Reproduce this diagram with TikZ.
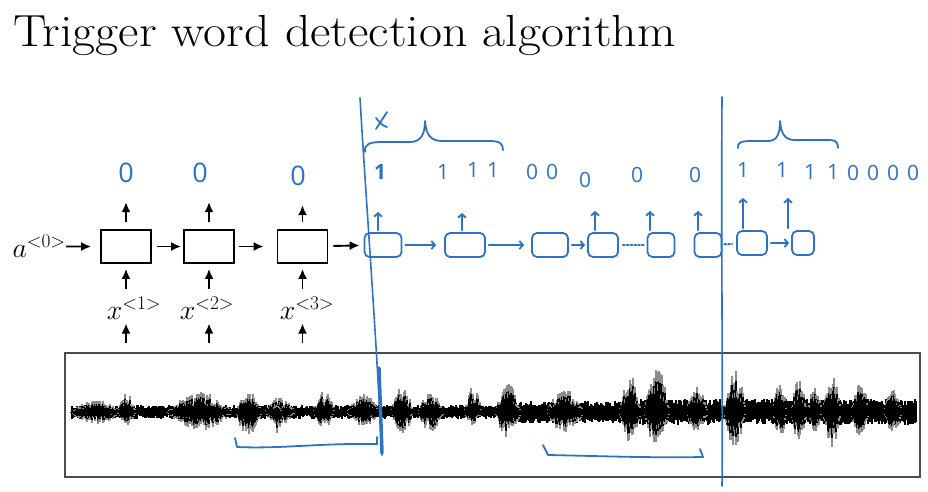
\documentclass[tikz,border=0pt]{standalone}
\usepackage{fontspec}
\newfontfamily\handfont{Open Sans}
\usetikzlibrary{arrows.meta,positioning}
\definecolor{inkblue}{RGB}{45,115,195}
\newcommand{\tstep}[2]{#1^{\scriptscriptstyle<#2>}}

\begin{document}
\begin{tikzpicture}[x=1pt,y=-1pt,
  cell/.style={draw,line width=1.7pt,minimum width=50pt,minimum height=33pt,inner sep=0pt},
  arr/.style={-{Latex[length=10pt,width=9pt]},line width=1.9pt},
  var/.style={inner sep=0pt,font=\fontsize{24.88}{28}\selectfont,scale=1.12,transform shape},
  outdigit/.style={inner sep=0pt,text=inkblue,font=\handfont\fontsize{27}{30}\selectfont},
  hand/.style={draw=inkblue,line width=1.8pt,line cap=round,line join=round},
  hcell/.style={hand,rounded corners=5pt,minimum height=24pt,inner sep=0pt},
  harr/.style={hand,-{Straight Barb[length=3.5pt,width=8pt]}},
  digit/.style={inner sep=0pt,text=inkblue,font=\handfont\fontsize{21}{23}\selectfont},
]
\useasboundingbox (0,0) rectangle (928,491);

\node[anchor=base west,inner sep=0pt,font=\fontsize{45}{50}\selectfont,
  xscale=1.11,transform shape] (title) at (13,46)
  {Trigger word detection algorithm};

%% clean RNN on the left
\node[cell] (c1) at (126,246.5) {};
\node[cell] (c2) at (209,246.5) {};
\node[cell] (c3) at (302.5,246.5) {};
\node[var,anchor=east] (a0) at (66,246.5) {$\tstep{a}{0}$};

\node[outdigit] (y1) at (126,173) {0};
\node[outdigit] (y2) at (200,173) {0};
\node[outdigit] (y3) at (298,176) {0};

\node[var] (x1) at (134,308) {$\tstep{x}{1}$};
\node[var] (x2) at (207,308) {$\tstep{x}{2}$};
\node[var] (x3) at (307,308) {$\tstep{x}{3}$};

%% audio clip
\node[draw=black!70,line width=1.4pt,minimum width=855pt,minimum height=124pt,inner sep=0pt]
  (wave) at (492.5,415) {};

%% handwritten cells
\node[hcell,minimum width=37pt] (h1) at (383,245) {};
\node[hcell,minimum width=40pt] (h2) at (465,245) {};
\node[hcell,minimum width=36pt] (h3) at (550,245) {};
\node[hcell,minimum width=30pt] (h4) at (603,245) {};
\node[hcell,minimum width=27pt] (h5) at (661,245) {};
\node[hcell,minimum width=27pt] (h6) at (708,245) {};
\node[hcell,minimum width=30pt] (h7) at (752,243) {};
\node[hcell,minimum width=22pt] (h8) at (803,243) {};

%% handwritten labels
\node[digit,font=\handfont\bfseries\fontsize{21}{23}\selectfont] (l1) at (380,172) {1};
\node[digit] (l2) at (443,172) {1};
\node[digit] (l3) at (473,170) {1};
\node[digit] (l4) at (493,170) {1};
\node[digit] (l5) at (532,172) {0};
\node[digit] (l6) at (552,172) {0};
\node[digit] (l7) at (585,180) {0};
\node[digit] (l8) at (637,175) {0};
\node[digit] (l9) at (695,175) {0};
\node[digit] (r1) at (743,170) {1};
\node[digit] (r2) at (782,170) {1};
\node[digit] (r3) at (810,172) {1};
\node[digit] (r4) at (833,172) {1};
\node[digit] (r5) at (853,173) {0};
\node[digit] (r6) at (873,173) {0};
\node[digit] (r7) at (893,173) {0};
\node[digit] (r8) at (913,173) {0};

%% connectors of the clean RNN
\draw[arr,shorten >=9pt] (a0) -- (c1);
\draw[arr,shorten <=5pt,shorten >=2pt] (c1) -- (c2);
\draw[arr,shorten <=4pt,shorten >=13pt] (c2) -- (c3);
\draw[arr,shorten <=5pt,shorten >=4pt] (c3) -- (h1);
\foreach \i in {1,2,3}{
  \draw[arr,shorten <=7pt,shorten >=19pt] (c\i) -- (c\i.north |- y\i.south);
  \draw[arr,shorten <=7pt,shorten >=5pt] (c\i.south |- x\i.north) -- (c\i.south);
  \draw[arr,shorten <=9pt,shorten >=4pt] (c\i.south |- wave.north) -- (c\i.south |- x\i.south);
}

%% handwritten connectors
\draw[harr,shorten <=3pt,shorten >=8pt] (h1) -- (h2);
\draw[harr,shorten <=3pt,shorten >=7pt] (h2) -- (h3);
\draw[harr,shorten <=3pt,shorten >=2pt] (h3) -- (h4);
\draw[hand,dotted,line width=2pt,shorten <=4pt,shorten >=3pt] (h4) -- (h5);
\draw[hand,dotted,line width=2pt,shorten <=2pt,shorten >=4pt] (h6) -- (h7);
\draw[harr,shorten <=3pt,shorten >=2pt] (h7) -- (h8);
\foreach \c/\dx/\t in {h1/-5/212,h2/-3/213,h4/-8/211,h5/-11/211,h6/-10/211,h7/-9/198,h8/-15/198}
  \draw[harr,shorten <=2pt] ([xshift=\dx pt]\c.north) -- ([xshift=\dx pt]\c.north |- 0,\t);

%% braces and marks
\draw[hand] (365,152) .. controls (364,144) and (370,142) .. (382,142) -- (410,142)
  .. controls (421,142) and (425,134) .. (425,121) .. controls (426,134) and (430,141) .. (442,141)
  -- (490,141) .. controls (500,141) and (503,144) .. (503,150);
\draw[hand] (738,148) .. controls (737,142) and (742,141) .. (752,141) -- (768,141)
  .. controls (777,141) and (780,134) .. (780,121) .. controls (781,134) and (785,140) .. (795,140)
  -- (830,140) .. controls (836,140) and (838,143) .. (838,148);
\draw[hand] (376,129) -- (387,112) (376,118) .. controls (380,123) and (383,126) .. (387,127);

%% waveform
\pgfmathsetseed{11}
\begin{scope}[line width=1.1pt]
\foreach \x in {72,73,...,916}{
  \pgfmathsetmacro\u{3+4*rnd}
  \pgfmathsetmacro\d{3+4*rnd}
  \draw (\x,{412-\u}) -- (\x,{412+\d});
}
% louder stretches
\foreach \a/\b/\h in {500/622/11, 640/720/13, 727/916/13}{
  \foreach \x in {\a,...,\b}{
    \pgfmathsetmacro\u{\h*(0.45+0.55*rnd)}
    \pgfmathsetmacro\d{\h*(0.45+0.55*rnd)}
    \draw (\x,{412-\u}) -- (\x,{412+\d});
  }
}
\foreach \c/\w/\u/\d in {96/25/12/12, 127/8/19/14, 200/32/20/19, 249/12/21/26, 280/14/15/14,
  277/4/10/26, 324/10/21/16, 363/15/19/16, 402/10/29/25, 431/12/20/20, 473/8/28/13,
  508/12/29/26, 565/18/23/21, 630/10/37/32, 657/12/44/35, 697/10/26/21, 735/10/42/35,
  780/6/32/28, 799/7/35/30, 815/6/28/20, 832/8/42/35, 860/8/32/28, 893/8/25/22}{
  \foreach \i in {-\w,...,\w}{
    \pgfmathsetmacro\f{1-(\i/(\w+1))^2}
    \pgfmathsetmacro\u{\u*\f*(0.4+0.6*rnd)}
    \pgfmathsetmacro\d{\d*\f*(0.4+0.6*rnd)}
    \draw[black!45] (\c+\i,{412-\u}) -- (\c+\i,{412+\d});
    \draw (\c+\i,{412-0.75*\u}) -- (\c+\i,{412+0.75*\d});
  }
}
\end{scope}

%% cut lines
\draw[hand,line width=1.6pt] (360,98) .. controls (366,200) and (376,330) .. (382,455);
\draw[hand,line width=3.5pt] (379,368) -- (382,453);
\draw[hand,line width=1.6pt] (722,97) .. controls (721,250) and (723,380) .. (722,486);

%% brackets under the clip
\draw[hand] (235,438) -- (237,447) .. controls (280,449) and (320,443) .. (377,444) -- (377,437);
\draw[hand] (543,445) -- (548,455) .. controls (600,456) and (650,458) .. (703,457) -- (700,449);
\end{tikzpicture}
\end{document}
